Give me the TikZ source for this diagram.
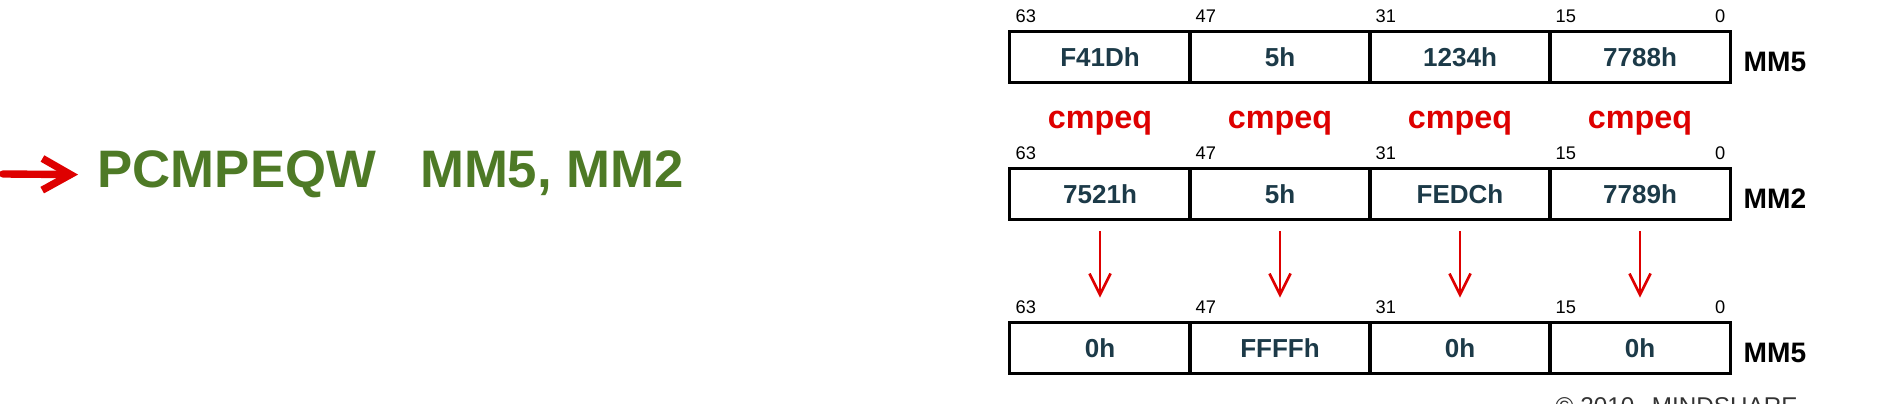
\documentclass[tikz,border=0pt]{standalone}
\usepackage{fontspec}
\setmainfont{Liberation Sans}
\usetikzlibrary{arrows.meta}
\definecolor{verde}{RGB}{78,122,38}
\definecolor{rojo}{RGB}{222,0,0}
\definecolor{valor}{RGB}{28,58,72}
\tikzset{
  celda/.style={draw=black,line width=0.85pt,minimum width=1.8cm,minimum height=0.5cm,inner sep=0pt,
    font=\fontsize{7.4}{8}\selectfont\bfseries,text=valor},
  bit/.style={inner sep=0pt,font=\fontsize{5.2}{6}\selectfont},
  reg/.style={anchor=west,inner sep=0pt,font=\fontsize{8}{9}\selectfont\bfseries},
  cmp/.style={anchor=base,inner sep=0pt,text=rojo,font=\fontsize{9.2}{10}\selectfont\bfseries},
  flecha/.style={draw=rojo,line width=0.75pt,-{Straight Barb[length=6pt,width=6pt]}},
}
\begin{document}
\begin{tikzpicture}[x=0.01cm,y=-0.01cm]
    \useasboundingbox (0,0) rectangle (1880,404);
    \clip (0,0) rectangle (1880,404);
    % Instrucción
    \node[anchor=base west,inner sep=0pt,text=verde,font=\fontsize{15}{18}\selectfont\bfseries] (instr) at (97,188) {PCMPEQW\hspace{12.5pt}MM5, MM2};
    \coordinate (ini) at (3,174);
    \draw[rojo,line width=2.1pt,line cap=round,shorten >=5.4pt,-{Straight Barb[length=8pt,width=9pt]}] (ini) -- (instr.west);
    % Registro MM5 (fuente)
    \node[celda] (m5a) at (1100,57) {F41Dh};
    \node[celda] (m5b) at (1280,57) {5h};
    \node[celda] (m5c) at (1460,57) {1234h};
    \node[celda] (m5d) at (1640,57) {7788h};
    \node[reg] (n5) at (1743,62) {MM5};
    \node[bit,anchor=base west] (t63) at (1015,23) {63};
    \node[bit,anchor=base west] (t47) at (1195,23) {47};
    \node[bit,anchor=base west] (t31) at (1375,23) {31};
    \node[bit,anchor=base west] (t15) at (1555,23) {15};
    \node[bit,anchor=base east] (t0) at (1726,23) {0};
    % Comparaciones
    \node[cmp] (ca) at (1100,129) {cmpeq};
    \node[cmp] (cb) at (1280,129) {cmpeq};
    \node[cmp] (cc) at (1460,129) {cmpeq};
    \node[cmp] (cd) at (1640,129) {cmpeq};
    % Registro MM2
    \node[celda] (m2a) at (1100,194) {7521h};
    \node[celda] (m2b) at (1280,194) {5h};
    \node[celda] (m2c) at (1460,194) {FEDCh};
    \node[celda] (m2d) at (1640,194) {7789h};
    \node[reg] (n2) at (1743,199) {MM2};
    \node[bit,anchor=base west] (m63) at (1015,160) {63};
    \node[bit,anchor=base west] (m47) at (1195,160) {47};
    \node[bit,anchor=base west] (m31) at (1375,160) {31};
    \node[bit,anchor=base west] (m15) at (1555,160) {15};
    \node[bit,anchor=base east] (m0) at (1726,160) {0};
    % Resultado en MM5
    \node[celda] (ra) at (1100,348) {0h};
    \node[celda] (rb) at (1280,348) {FFFFh};
    \node[celda] (rc) at (1460,348) {0h};
    \node[celda] (rd) at (1640,348) {0h};
    \node[reg] (n5r) at (1743,353) {MM5};
    \node[bit,anchor=base west] (r63) at (1015,314) {63};
    \node[bit,anchor=base west] (r47) at (1195,314) {47};
    \node[bit,anchor=base west] (r31) at (1375,314) {31};
    \node[bit,anchor=base west] (r15) at (1555,314) {15};
    \node[bit,anchor=base east] (r0) at (1726,314) {0};
    % Flechas
    \draw[flecha,shorten <=3.1pt,shorten >=6.8pt] (m2a) -- (ra);
    \draw[flecha,shorten <=3.1pt,shorten >=6.8pt] (m2b) -- (rb);
    \draw[flecha,shorten <=3.1pt,shorten >=6.8pt] (m2c) -- (rc);
    \draw[flecha,shorten <=3.1pt,shorten >=6.8pt] (m2d) -- (rd);
    % Marca
    \node[anchor=north west,inner sep=0pt,text=black!80,font=\fontsize{6.9}{8}\selectfont] (marca) at (1555,397) {© 2010\hspace{5pt}MINDSHARE};
  \end{tikzpicture}
\end{document}
